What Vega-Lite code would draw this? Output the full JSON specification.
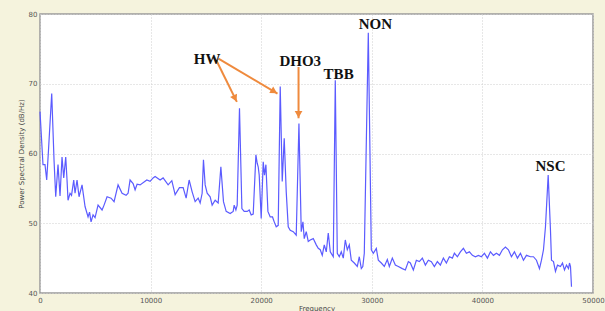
{
  "$schema": "https://vega.github.io/schema/vega-lite/v6.json",
  "width": 553,
  "height": 279,
  "autosize": {"type": "none"},
  "padding": {"left": 40, "top": 14, "right": 12, "bottom": 18},
  "background": "#f5f3dd",
  "config": {
    "view": {"fill": "white", "stroke": "#9a9a9a", "strokeWidth": 1.5},
    "axis": {
      "labelFont": "DejaVu Sans", "labelFontSize": 7, "labelColor": "#555555",
      "titleFont": "DejaVu Sans", "titleFontSize": 7, "titleFontWeight": "normal", "titleColor": "#444444",
      "grid": true, "gridColor": "#cfcfcf", "gridDash": [1, 2], "gridWidth": 1,
      "ticks": false, "domain": false, "labelOverlap": false
    }
  },
  "datasets": {
    "psd": [
      {"f":0,"d":66.0},{"f":271,"d":58.4},{"f":452,"d":58.4},{"f":606,"d":56.2},{"f":769,"d":60.5},{"f":1059,"d":68.6},
      {"f":1267,"d":59.1},{"f":1421,"d":53.8},{"f":1629,"d":58.4},{"f":1810,"d":53.9},{"f":1991,"d":59.5},{"f":2145,"d":56.5},
      {"f":2326,"d":59.5},{"f":2444,"d":56.2},{"f":2534,"d":53.3},{"f":2715,"d":54.3},{"f":2851,"d":54.0},{"f":3050,"d":56.2},
      {"f":3168,"d":54.3},{"f":3349,"d":56.2},{"f":3530,"d":53.8},{"f":3801,"d":55.5},{"f":4073,"d":52.4},{"f":4344,"d":50.9},
      {"f":4480,"d":51.6},{"f":4616,"d":50.2},{"f":4797,"d":51.2},{"f":4978,"d":50.8},{"f":5249,"d":52.6},{"f":5611,"d":51.9},
      {"f":5792,"d":52.6},{"f":6064,"d":53.8},{"f":6426,"d":53.6},{"f":6697,"d":53.1},{"f":7059,"d":55.5},{"f":7421,"d":54.3},
      {"f":7783,"d":54.0},{"f":7964,"d":54.3},{"f":8145,"d":56.2},{"f":8417,"d":55.7},{"f":8598,"d":54.8},{"f":8779,"d":55.6},
      {"f":9050,"d":55.5},{"f":9656,"d":56.2},{"f":9955,"d":56.0},{"f":10227,"d":56.5},{"f":10408,"d":56.7},{"f":10860,"d":56.2},
      {"f":11132,"d":56.5},{"f":11584,"d":55.5},{"f":11919,"d":56.1},{"f":12218,"d":54.1},{"f":12607,"d":55.1},{"f":12942,"d":55.1},
      {"f":13213,"d":53.6},{"f":13485,"d":56.2},{"f":13756,"d":54.5},{"f":14028,"d":53.1},{"f":14299,"d":53.6},{"f":14480,"d":52.9},
      {"f":14661,"d":54.3},{"f":14779,"d":59.1},{"f":14933,"d":55.5},{"f":15114,"d":54.3},{"f":15385,"d":53.8},{"f":15566,"d":52.6},
      {"f":15838,"d":53.3},{"f":16109,"d":52.9},{"f":16353,"d":58.1},{"f":16589,"d":53.1},{"f":16833,"d":51.7},{"f":17195,"d":51.4},
      {"f":17467,"d":51.7},{"f":17557,"d":52.6},{"f":17711,"d":51.9},{"f":17829,"d":52.6},{"f":18037,"d":66.5},{"f":18254,"d":52.1},
      {"f":18462,"d":51.7},{"f":18734,"d":51.7},{"f":18915,"d":51.9},{"f":19096,"d":51.2},{"f":19277,"d":51.3},{"f":19521,"d":59.8},
      {"f":19639,"d":58.6},{"f":19729,"d":58.1},{"f":19820,"d":56.9},{"f":20001,"d":50.7},{"f":20182,"d":58.8},{"f":20299,"d":56.9},
      {"f":20426,"d":58.4},{"f":20607,"d":51.7},{"f":20815,"d":50.9},{"f":21023,"d":50.9},{"f":21177,"d":50.2},{"f":21358,"d":49.5},
      {"f":21539,"d":49.7},{"f":21720,"d":69.6},{"f":21901,"d":56.0},{"f":22082,"d":62.2},{"f":22263,"d":54.5},{"f":22444,"d":49.5},
      {"f":22625,"d":49.0},{"f":22897,"d":48.8},{"f":23168,"d":48.3},{"f":23412,"d":64.3},{"f":23621,"d":48.8},{"f":23774,"d":50.2},
      {"f":23892,"d":47.8},{"f":24073,"d":48.8},{"f":24254,"d":47.4},{"f":24435,"d":47.6},{"f":24707,"d":47.8},{"f":24978,"d":46.9},
      {"f":25159,"d":46.4},{"f":25340,"d":46.2},{"f":25521,"d":45.4},{"f":25702,"d":46.9},{"f":25883,"d":45.9},{"f":26064,"d":48.6},
      {"f":26245,"d":45.9},{"f":26517,"d":45.2},{"f":26698,"d":70.5},{"f":26879,"d":45.7},{"f":27060,"d":45.2},{"f":27241,"d":45.9},
      {"f":27422,"d":45.0},{"f":27603,"d":47.6},{"f":27784,"d":46.2},{"f":27965,"d":46.9},{"f":28146,"d":44.7},{"f":28417,"d":44.3},
      {"f":28689,"d":43.8},{"f":28870,"d":45.2},{"f":29051,"d":43.5},{"f":29186,"d":43.8},{"f":29322,"d":45.7},{"f":29684,"d":77.3},
      {"f":29956,"d":46.2},{"f":30137,"d":45.7},{"f":30408,"d":46.4},{"f":30589,"d":44.7},{"f":30861,"d":44.3},{"f":31132,"d":43.8},
      {"f":31404,"d":44.8},{"f":31585,"d":43.8},{"f":31856,"d":45.0},{"f":32128,"d":44.0},{"f":32399,"d":43.8},{"f":32761,"d":43.5},
      {"f":33033,"d":43.3},{"f":33304,"d":44.5},{"f":33485,"d":44.3},{"f":33757,"d":43.3},{"f":34028,"d":44.7},{"f":34300,"d":44.5},
      {"f":34571,"d":45.0},{"f":34843,"d":44.0},{"f":35114,"d":44.7},{"f":35386,"d":44.5},{"f":35657,"d":43.8},{"f":35929,"d":44.5},
      {"f":36200,"d":44.0},{"f":36472,"d":45.0},{"f":36743,"d":44.3},{"f":37015,"d":45.2},{"f":37286,"d":45.0},{"f":37467,"d":45.7},
      {"f":37739,"d":45.2},{"f":38010,"d":45.9},{"f":38282,"d":46.4},{"f":38553,"d":45.7},{"f":38825,"d":45.9},{"f":39096,"d":45.4},
      {"f":39368,"d":45.2},{"f":39639,"d":45.4},{"f":39911,"d":45.2},{"f":40182,"d":45.7},{"f":40454,"d":45.0},{"f":40725,"d":45.9},
      {"f":40997,"d":45.4},{"f":41268,"d":45.7},{"f":41540,"d":45.4},{"f":41811,"d":46.2},{"f":42083,"d":46.6},{"f":42354,"d":46.2},
      {"f":42626,"d":45.2},{"f":42897,"d":45.9},{"f":43169,"d":45.0},{"f":43440,"d":45.7},{"f":43712,"d":44.7},{"f":43983,"d":45.4},
      {"f":44345,"d":45.2},{"f":44617,"d":45.2},{"f":44888,"d":44.7},{"f":45160,"d":43.5},{"f":45341,"d":44.7},{"f":45522,"d":46.2},
      {"f":45703,"d":49.5},{"f":45947,"d":56.9},{"f":46155,"d":49.0},{"f":46246,"d":44.7},{"f":46427,"d":44.5},{"f":46608,"d":43.1},
      {"f":46789,"d":44.0},{"f":47060,"d":43.8},{"f":47241,"d":44.3},{"f":47422,"d":43.3},{"f":47603,"d":44.0},{"f":47784,"d":43.5},
      {"f":47875,"d":44.3},{"f":47965,"d":43.8},{"f":48056,"d":40.9}
    ],
    "labels": [
      {"label":"HW","f":15114,"d":73.6},
      {"label":"DHO3","f":23530,"d":73.2},
      {"label":"TBB","f":27000,"d":71.4},
      {"label":"NON","f":30318,"d":78.5},
      {"label":"NSC","f":46155,"d":58.2}
    ],
    "arrows": [
      {"f":15928,"d":73.4,"f2":17801,"d2":67.4,"hf":17637,"hd":67.9,"ang":153.6},
      {"f":16136,"d":73.6,"f2":21476,"d2":68.6,"hf":21168,"hd":68.9,"ang":120.7},
      {"f":23376,"d":72.4,"f2":23376,"d2":65.05,"hf":23376,"hd":65.6,"ang":180}
    ]
  },
  "layer": [
    {
      "data": {"name": "psd"},
      "mark": {"type": "line", "color": "#5b5bff", "strokeWidth": 1.2},
      "encoding": {
        "x": {"field": "f", "type": "quantitative", "scale": {"domain": [0, 50000], "nice": false},
              "axis": {"title": "Frequency", "values": [0,10000,20000,30000,40000,50000], "labelPadding": 3, "titlePadding": 1, "format": "d", "labelFlush": false}},
        "y": {"field": "d", "type": "quantitative", "scale": {"domain": [40, 80], "nice": false, "zero": false},
              "axis": {"title": "Power Spectral Density (dB/Hz)", "values": [40,50,60,70,80], "labelPadding": 3, "titlePadding": 4}}
      }
    },
    {
      "data": {"name": "arrows"},
      "mark": {"type": "rule", "color": "#ef8a3d", "strokeWidth": 2},
      "encoding": {
        "x": {"field": "f", "type": "quantitative"},
        "y": {"field": "d", "type": "quantitative"},
        "x2": {"field": "f2"},
        "y2": {"field": "d2"}
      }
    },
    {
      "data": {"name": "arrows"},
      "mark": {"type": "point", "shape": "triangle-up", "filled": true, "color": "#ef8a3d", "size": 60, "opacity": 1},
      "encoding": {
        "x": {"field": "hf", "type": "quantitative"},
        "y": {"field": "hd", "type": "quantitative"},
        "angle": {"field": "ang", "type": "quantitative", "scale": null}
      }
    },
    {
      "data": {"name": "labels"},
      "mark": {"type": "text", "font": "Liberation Serif", "fontWeight": "bold", "fontSize": 15, "color": "#111111", "align": "center", "baseline": "middle"},
      "encoding": {
        "x": {"field": "f", "type": "quantitative"},
        "y": {"field": "d", "type": "quantitative"},
        "text": {"field": "label"}
      }
    }
  ]
}
